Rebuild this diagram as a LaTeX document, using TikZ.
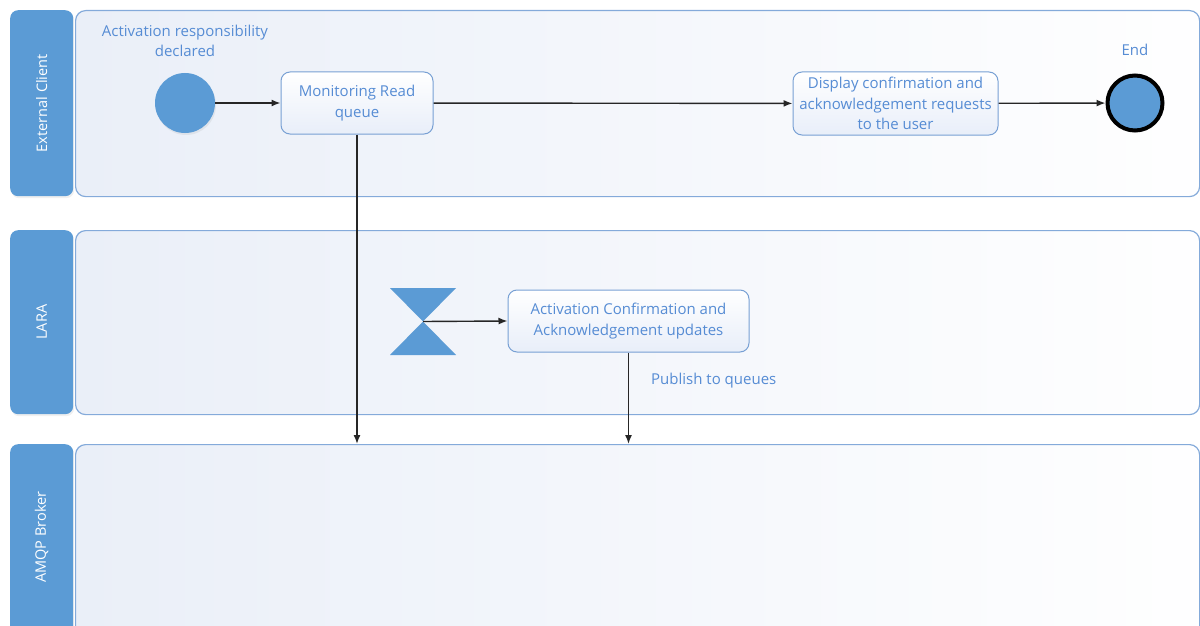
\documentclass[tikz,border=0pt]{standalone}
\usepackage{fontspec}
\setmainfont{Open Sans}
\usetikzlibrary{arrows.meta,shadows}

\definecolor{hdrblue}{RGB}{91,155,213}
\definecolor{laneedge}{RGB}{132,170,218}
\definecolor{lanefill}{RGB}{234,239,248}
\definecolor{boxedge}{RGB}{120,160,212}
\definecolor{boxfill}{RGB}{232,238,249}
\definecolor{txtblue}{RGB}{86,140,212}

\tikzset{
  lanehdr/.style={draw=none, fill=hdrblue, rounded corners=8pt, minimum width=63pt,
    anchor=north west, inner sep=0pt,
    drop shadow={opacity=0.12, shadow xshift=1pt, shadow yshift=-2pt}},
  hdrtext/.style={rotate=90, text=white, font=\fontsize{14.5}{16}\selectfont},
  lanebody/.style={draw=laneedge, line width=1.2pt, rounded corners=10pt,
    left color=lanefill, right color=white!97!lanefill, minimum width=1124pt,
    anchor=north west, inner sep=0pt},
  task/.style={draw=boxedge, line width=1pt, rounded corners=9pt,
    top color=white, bottom color=boxfill, align=center, text=txtblue,
    font=\fontsize{15}{20.5}\selectfont, inner sep=0pt},
  lbl/.style={text=txtblue, align=center, font=\fontsize{15}{20.5}\selectfont, inner sep=0pt},
  flow/.style={draw=black!85, line width=1.4pt, -{Latex[length=9pt,width=7pt]}},
}

\begin{document}
\begin{tikzpicture}[x=1pt,y=-1pt]
\useasboundingbox (0,0) rectangle (1200,626);

% swimlane bodies
\node[lanebody, minimum height=186pt] (b1) at (75,10) {};
\node[lanebody, minimum height=184pt] (b2) at (75,230) {};
\node[lanebody, minimum height=200pt] (b3) at (75,444) {};

% swimlane headers
\node[lanehdr, minimum height=186pt] (h1) at (10,10) {};
\node[hdrtext] (t1) at (h1.center) {External Client};
\node[lanehdr, minimum height=184pt] (h2) at (10,230) {};
\node[hdrtext] (t2) at (h2.center) {LARA};
\node[lanehdr, minimum height=200pt] (h3) at (10,444) {};
\node[hdrtext] (t3) at (10+31.5,537) {AMQP Broker};

% events
\node[circle, fill=hdrblue, minimum size=60pt, inner sep=0pt,
  drop shadow={opacity=0.12, shadow xshift=1pt, shadow yshift=-2pt}] (start) at (185,103) {};
\node[lbl] (startlbl) at (185,41) {Activation responsibility\\declared};

\node[circle, fill=hdrblue, draw=black, line width=4pt, minimum size=55pt, inner sep=0pt,
  drop shadow={opacity=0.12, shadow xshift=1pt, shadow yshift=-2pt}] (end) at (1135,103) {};
\node[lbl] (endlbl) at (1135,50) {End};

% tasks
\node[task, minimum width=152pt, minimum height=62pt] (mon) at (357,103) {Monitoring Read\\queue};
\node[task, minimum width=205pt, minimum height=63pt] (disp) at (895.5,103.5)
  {Display confirmation and\\acknowledgement requests\\to the user};
\node[task, minimum width=241pt, minimum height=62pt] (conf) at (628.5,321)
  {Activation Confirmation and\\Acknowledgement updates};

% timer (hourglass) event
\coordinate (hg) at (423,321.5);
\fill[hdrblue] (390,288) -- (456,288) -- (hg) -- cycle;
\fill[hdrblue] (390,355) -- (456,355) -- (hg) -- cycle;

% flows
\draw[flow] (start) -- (mon);
\draw[flow] (mon) -- (disp);
\draw[flow] (disp) -- (end);
\draw[flow] (hg) -- (conf.west);
\draw[flow] (mon.south) -- (mon.south |- b3.north);
\draw[flow] (conf.south) -- (conf.south |- b3.north);
\node[lbl, anchor=west] (pub) at (651,381) {Publish to queues};

\end{tikzpicture}
\end{document}
